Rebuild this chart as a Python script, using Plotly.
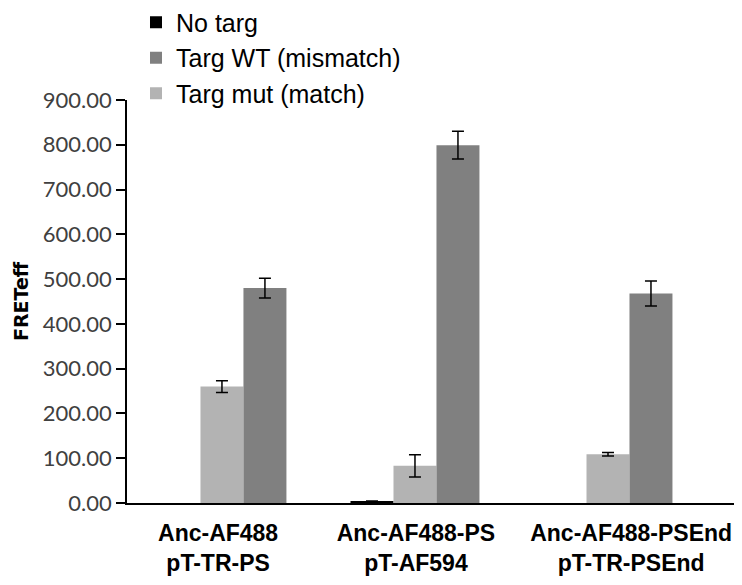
import plotly.graph_objects as go

categories = ["Anc-AF488<br>pT-TR-PS", "Anc-AF488-PS<br>pT-AF594", "Anc-AF488-PSEnd<br>pT-TR-PSEnd"]
series_names = ["No targ", "Targ mut (match)", "Targ WT (mismatch)"]
no_targ = [None, 3.0, None]
no_targ_err = [None, 1.5, None]
targ_mut = [260.0, 83.0, 109.0]
targ_mut_err = [13.0, 25.0, 4.0]
targ_wt = [480.0, 799.0, 468.0]
targ_wt_err = [22.0, 31.0, 28.0]
y_ticks = [0, 100, 200, 300, 400, 500, 600, 700, 800, 900]
y_title = "FRETeff"

colors = ["#000000", "#b3b3b3", "#808080"]
ranks = [1, 3, 2]
values = [no_targ, targ_mut, targ_wt]
errors = [no_targ_err, targ_mut_err, targ_wt_err]

xidx = list(range(len(categories)))

fig = go.Figure()
for name, vals, errs, col, rk in zip(series_names, values, errors, colors, ranks):
    fig.add_trace(go.Bar(
        x=xidx, y=vals, name=name, legendrank=rk, legendgroup=name,
        marker=dict(color=col, line=dict(width=0)),
        error_y=dict(type="data", array=errs, visible=True, color="#000000",
                     thickness=1.5, width=6),
    ))

# invisible trace to activate the label axis
fig.add_trace(go.Scatter(x=[0], y=[0], xaxis="x2", mode="markers",
                         marker=dict(opacity=0), showlegend=False, hoverinfo="skip"))

xrange = [-0.492, 2.658]
fig.update_layout(
    width=734, height=577,
    margin=dict(l=119, r=7, t=92, b=82, autoexpand=False),
    paper_bgcolor="white", plot_bgcolor="white",
    barmode="group", bargap=0.332, bargroupgap=0,
    font=dict(family="Liberation Sans, Arial", color="#000000"),
    legend=dict(x=0.0148, y=1.2496, xanchor="left", yanchor="top",
                font=dict(size=25, family="Liberation Sans, Arial", color="#000000"),
                tracegroupgap=0, bgcolor="rgba(0,0,0,0)", itemwidth=30),
    xaxis=dict(range=xrange, showticklabels=False, ticks="", showline=True,
               linecolor="#000000", linewidth=1.5, showgrid=False, zeroline=False,
               fixedrange=True, automargin=False),
    xaxis2=dict(range=xrange, overlaying="x", side="bottom", showline=False,
                showgrid=False, zeroline=False, ticks="", automargin=False,
                tickmode="array", tickvals=[-0.02, 1.005, 2.12], ticktext=categories,
                tickangle=0,
                tickfont=dict(size=23, family="Liberation Sans, Arial", color="#000000",
                              weight="bold"),
                ticklabelstandoff=14),
    yaxis=dict(range=[0, 900], tickmode="array", tickvals=y_ticks, tickformat=".2f",
               ticks="outside", ticklen=9, tickwidth=1.5, tickcolor="#000000",
               showline=True, linecolor="#000000", linewidth=1.5,
               showgrid=False, zeroline=False, automargin=False,
               tickfont=dict(size=22, family="Lato", color="#404040")),
    annotations=[dict(text=y_title, xref="paper", yref="paper", x=-0.175, y=0.5,
                      xanchor="center", yanchor="middle", textangle=-90, showarrow=False,
                      borderpad=0,
                      font=dict(size=19, family="DejaVu Sans", color="#000000",
                                weight="bold"))],
)

fig.write_html("out.html")
